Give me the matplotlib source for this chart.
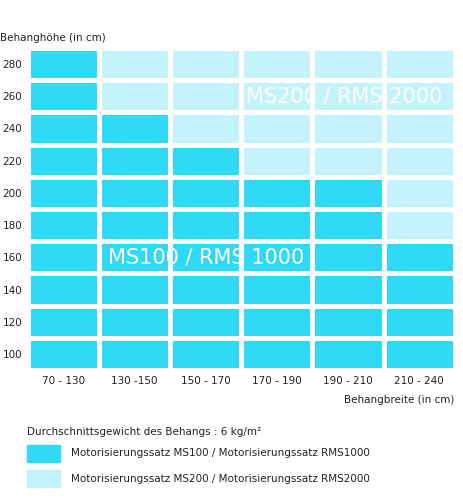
import matplotlib
matplotlib.use("Agg")
import matplotlib.pyplot as plt
import numpy as np
from matplotlib.colors import ListedColormap
from matplotlib.patches import Rectangle

widths = ["70 - 130", "130 -150", "150 - 170", "170 - 190", "190 - 210", "210 - 240"]
heights = ["100", "120", "140", "160", "180", "200", "220", "240", "260", "280"]
# number of MS100 (dark) columns per height row
ms100_cols = [6, 6, 6, 6, 5, 5, 3, 2, 1, 1]

DARK = "#30d9f5"
LIGHT = "#c4f3fb"

grid = np.array([[1 if c < n else 0 for c in range(len(widths))] for n in ms100_cols])

fig = plt.figure(figsize=(4.64, 5.0), dpi=100)
ax = fig.add_axes([0.06, 0.26, 0.92, 0.644])
ax.pcolormesh(np.arange(len(widths)+1), np.arange(len(heights)+1), grid,
              cmap=ListedColormap([LIGHT, DARK]), vmin=0, vmax=1,
              edgecolor="white", linewidth=3.5)
ax.set_xlim(0, len(widths)); ax.set_ylim(0, len(heights))
ax.set_xticks(np.arange(len(widths)) + 0.5, widths)
ax.set_yticks(np.arange(len(heights)) + 0.5, heights)
ax.tick_params(length=0, labelsize=7.5, colors="#222222", pad=4)
for s in ax.spines.values():
    s.set_visible(False)
ax.text(2.5, 3.5, "MS100 / RMS 1000", color="white", fontsize=15, ha="center", va="center")
ax.text(4.45, 8.5, "MS200 / RMS 2000", color="white", fontsize=15, ha="center", va="center")

fig.text(0.0, 0.924, "Behanghöhe (in cm)", fontsize=7.5, color="#222222", va="center")
fig.text(0.98, 0.2, "Behangbreite (in cm)", fontsize=7.5, color="#222222", ha="right", va="center")
fig.text(0.058, 0.136, "Durchschnittsgewicht des Behangs : 6 kg/m²", fontsize=7.5, color="#222222", va="center")
fig.patches.append(Rectangle((0.058, 0.076), 0.072, 0.034, transform=fig.transFigure, color=DARK))
fig.patches.append(Rectangle((0.058, 0.026), 0.072, 0.034, transform=fig.transFigure, color=LIGHT))
fig.text(0.153, 0.093, "Motorisierungssatz MS100 / Motorisierungssatz RMS1000", fontsize=7.5, color="#222222", va="center")
fig.text(0.153, 0.043, "Motorisierungssatz MS200 / Motorisierungssatz RMS2000", fontsize=7.5, color="#222222", va="center")
fig.savefig("out.png", dpi=100)
